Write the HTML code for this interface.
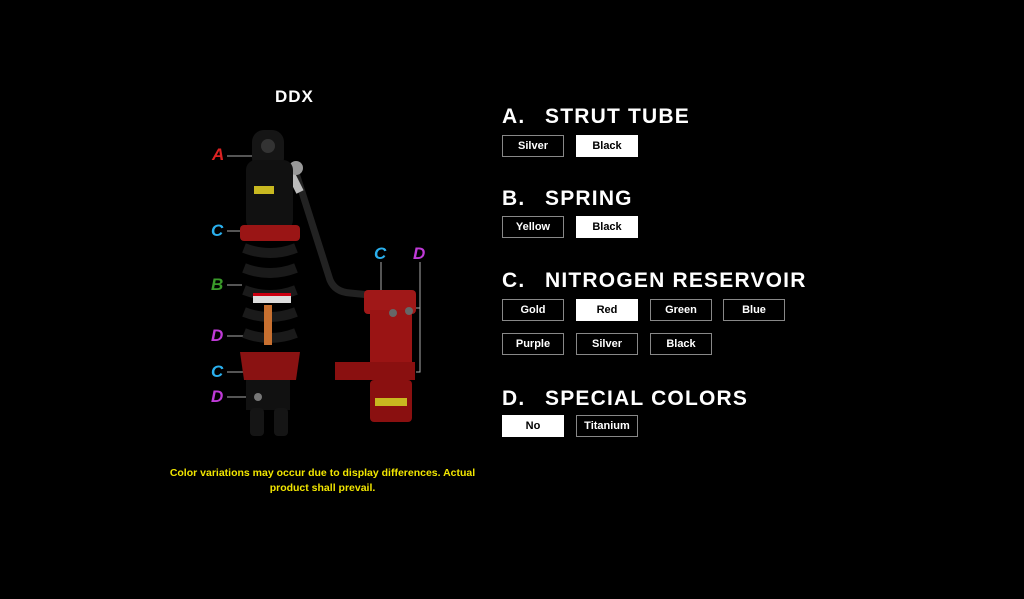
<!DOCTYPE html>
<html><head><meta charset="utf-8"><style>
body{margin:0;width:1024px;height:599px;background:#000;overflow:hidden;position:relative;font-family:"Liberation Sans",sans-serif;color:#fff}
.h{position:absolute;left:502px;font-weight:bold;font-size:21px;letter-spacing:1.2px;line-height:22px;white-space:nowrap}
.h span{position:absolute;left:43px}
.b{position:absolute;width:60px;height:20px;border:1px solid #888;font-size:11px;font-weight:bold;text-align:center;line-height:20px;color:#fff}
.w{background:#fff;color:#000;border-color:#fff}
.lab{position:absolute;font-weight:bold;font-style:italic;font-size:17px}
</style></head><body>
<div style="position:absolute;left:275px;top:87px;font-size:17px;font-weight:bold;letter-spacing:1px">DDX</div>

<div class="h" style="top:106px">A.<span>STRUT TUBE</span></div>
<div class="b" style="left:502px;top:135px">Silver</div>
<div class="b w" style="left:576px;top:135px">Black</div>

<div class="h" style="top:188px">B.<span>SPRING</span></div>
<div class="b" style="left:502px;top:216px">Yellow</div>
<div class="b w" style="left:576px;top:216px">Black</div>

<div class="h" style="top:270px">C.<span>NITROGEN RESERVOIR</span></div>
<div class="b" style="left:502px;top:299px">Gold</div>
<div class="b w" style="left:576px;top:299px">Red</div>
<div class="b" style="left:650px;top:299px">Green</div>
<div class="b" style="left:723px;top:299px">Blue</div>
<div class="b" style="left:502px;top:333px">Purple</div>
<div class="b" style="left:576px;top:333px">Silver</div>
<div class="b" style="left:650px;top:333px">Black</div>

<div class="h" style="top:388px">D.<span>SPECIAL COLORS</span></div>
<div class="b w" style="left:502px;top:415px">No</div>
<div class="b" style="left:576px;top:415px">Titanium</div>

<div style="position:absolute;left:150px;top:466px;width:345px;text-align:center;color:#f2e600;font-size:10.5px;line-height:15px;font-weight:bold">Color variations may occur due to display differences. Actual product shall prevail.</div>

<svg width="1024" height="599" style="position:absolute;left:0;top:0">
<g stroke="#aaa" stroke-width="1" fill="none">
<line x1="227" y1="156" x2="254" y2="156"/><line x1="227" y1="231" x2="242" y2="231"/>
<line x1="227" y1="285" x2="242" y2="285"/><line x1="227" y1="336" x2="265" y2="336"/>
<line x1="227" y1="372" x2="245" y2="372"/><line x1="227" y1="397" x2="254" y2="397"/>
<polyline points="381,262 381,291"/><polyline points="420,262 420,372 416,372"/>
<line x1="416" y1="308" x2="420" y2="308"/>
</g>
<!-- hose -->
<path d="M295,170 L330,280 Q335,292 350,293 L370,295" stroke="#222" stroke-width="7" fill="none"/>
<path d="M288,168 L300,192" stroke="#bbb" stroke-width="8"/>
<circle cx="296" cy="168" r="7" fill="#999"/>
<!-- top eye/body -->
<rect x="252" y="130" width="32" height="40" rx="12" fill="#151515"/>
<circle cx="268" cy="146" r="7" fill="#333"/>
<rect x="246" y="160" width="47" height="70" rx="10" fill="#111"/>
<rect x="254" y="186" width="20" height="8" fill="#c8b820"/>
<!-- red ring top -->
<rect x="240" y="225" width="60" height="16" rx="4" fill="#9a1515"/>
<!-- spring -->
<g stroke="#1a1a1a" stroke-width="10" fill="none">
<path d="M244,248 Q270,258 296,248"/><path d="M244,268 Q270,278 296,268"/><path d="M244,290 Q270,300 296,290"/>
<path d="M244,312 Q270,322 296,312"/><path d="M244,333 Q270,343 296,333"/>
</g>
<rect x="253" y="293" width="38" height="10" fill="#ddd"/><rect x="253" y="293" width="38" height="3" fill="#c01"/>
<rect x="264" y="305" width="8" height="40" fill="#c87030"/>
<!-- lower red ring -->
<path d="M240,352 L300,352 L296,380 L244,380 Z" fill="#8a1212"/>
<rect x="246" y="380" width="44" height="30" fill="#111"/>
<rect x="250" y="408" width="14" height="28" rx="4" fill="#151515"/><rect x="274" y="408" width="14" height="28" rx="4" fill="#151515"/>
<circle cx="258" cy="397" r="4" fill="#777"/>
<!-- reservoir -->
<rect x="364" y="290" width="52" height="24" rx="4" fill="#a01818"/>
<rect x="370" y="310" width="42" height="62" fill="#9a1414"/>
<rect x="335" y="362" width="80" height="18" fill="#8a1010"/>
<rect x="370" y="380" width="42" height="42" rx="4" fill="#8a1010"/>
<rect x="375" y="398" width="32" height="8" fill="#c8b820"/>
<circle cx="393" cy="313" r="4" fill="#666"/><circle cx="409" cy="311" r="4" fill="#666"/>
</svg>
<div class="lab" style="left:212px;top:145px;color:#d22">A</div>
<div class="lab" style="left:211px;top:221px;color:#2ab0ee">C</div>
<div class="lab" style="left:211px;top:275px;color:#3a9a2a">B</div>
<div class="lab" style="left:211px;top:326px;color:#c03ad8">D</div>
<div class="lab" style="left:211px;top:362px;color:#2ab0ee">C</div>
<div class="lab" style="left:211px;top:387px;color:#c03ad8">D</div>
<div class="lab" style="left:374px;top:244px;color:#2ab0ee">C</div>
<div class="lab" style="left:413px;top:244px;color:#c03ad8">D</div>
</body></html>
